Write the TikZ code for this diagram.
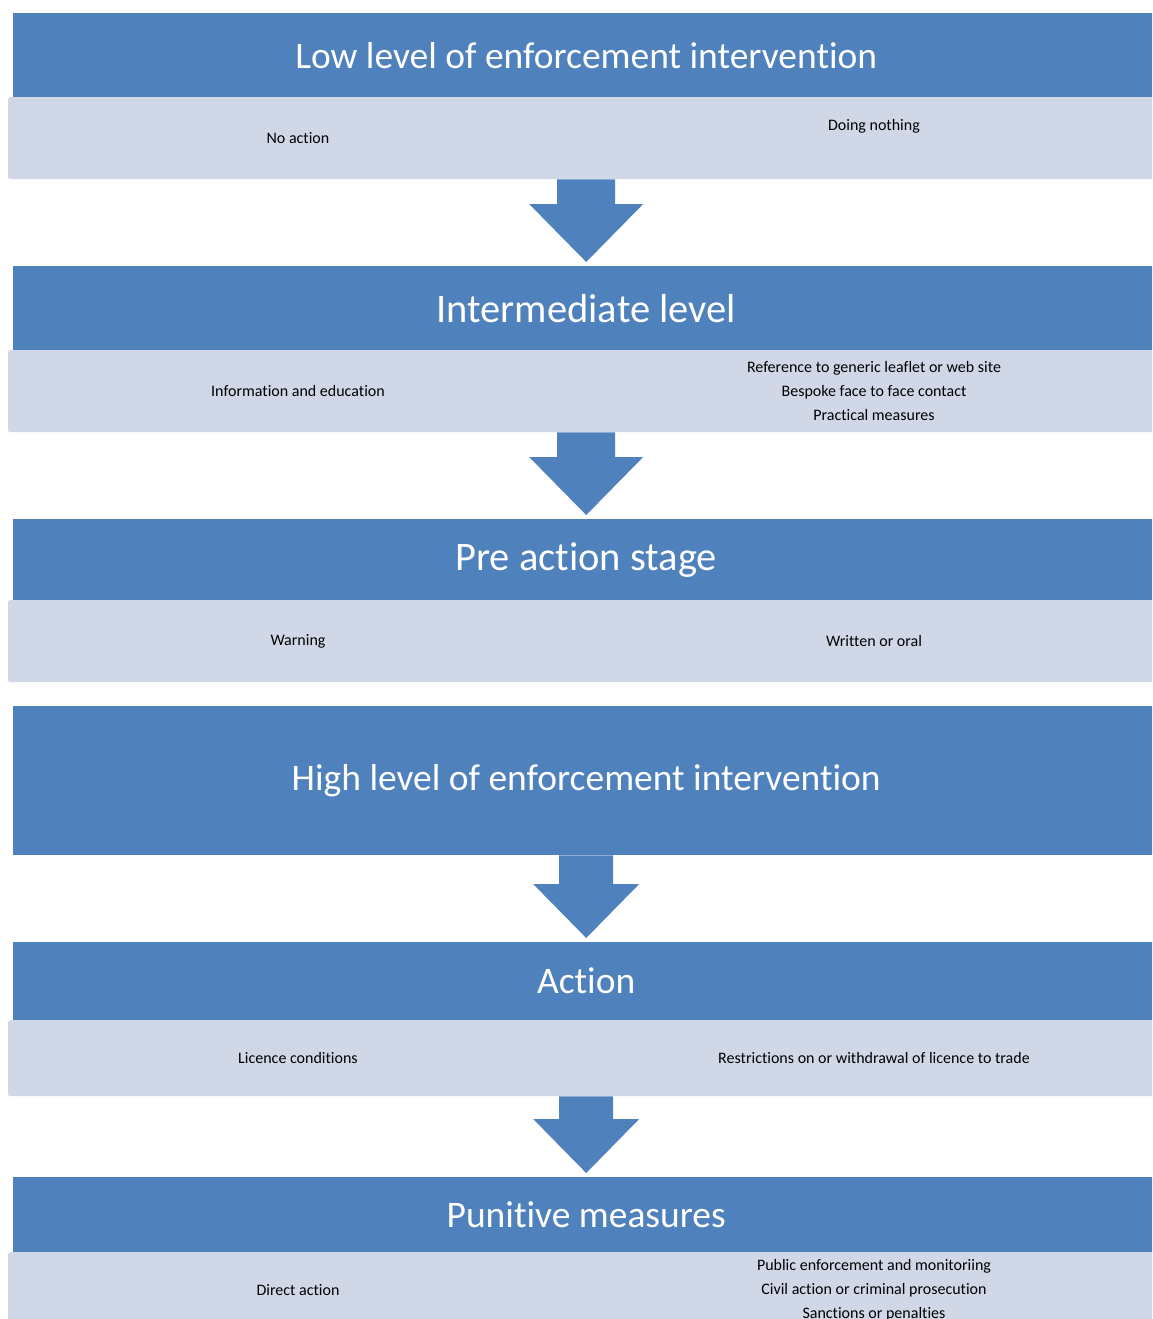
\documentclass[tikz,border=0pt]{standalone}
\usepackage{fontspec}
\setmainfont{Carlito}[Ligatures=NoCommon]
\usetikzlibrary{calc}
\definecolor{headblue}{HTML}{4F81BD}
\definecolor{bandgrey}{HTML}{D0D8E8}
\tikzset{
  headbox/.style={fill=headblue, draw=none, anchor=north west, inner sep=0pt,
    minimum width=1146pt, text=white, font=\fontsize{37.5}{44}\selectfont},
  bighead/.style={headbox, font=\fontsize{40.5}{48}\selectfont},
  detailbox/.style={fill=bandgrey, draw=none, anchor=north west, inner sep=0pt,
    rounded corners=2pt, minimum width=1160pt},
  itemtext/.style={align=center, text=black, inner sep=0pt,
    font=\fontsize{16}{24}\selectfont},
  arrowfill/.style={fill=headblue, draw=none}
}
% block arrow: from, to, shaft half width, head half width, head length
\newcommand\flowarrow[5]{%
  \fill[arrowfill] let \p1=(#1), \p2=(#2) in
    (\x2-#3,\y1) -- (\x2+#3,\y1) -- (\x2+#3,\y2+4pt+#5) -- (\x2+#4,\y2+4pt+#5)
    -- (\x2,\y2+4pt) -- (\x2-#4,\y2+4pt+#5) -- (\x2-#3,\y2+4pt+#5) -- cycle;}
\begin{document}
\begin{tikzpicture}[x=1pt, y=-1pt]
\clip (0,0) rectangle (1152,1319);
\fill[white] (0,0) rectangle (1152,1319);

% level 1
\node[headbox, minimum height=84pt] (t1) at (13,13) {Low level of enforcement intervention};
\node[detailbox, minimum height=82pt] (l1) at (8,97) {};
\node[itemtext] (l1a) at (298,138) {No action};
\node[itemtext] (l1b) at (874,126) {Doing nothing};

% level 2
\node[bighead, minimum height=84pt] (t2) at (13,266) {Intermediate level};
\node[detailbox, minimum height=82pt] (l2) at (8,350) {};
\node[itemtext] (l2a) at (298,391) {Information and education};
\node[itemtext] (l2b) at (874,391) {Reference to generic leaflet or web site\\Bespoke face to face contact\\Practical measures};

% level 3
\node[bighead, minimum height=81pt] (t3) at (13,519) {Pre action stage};
\node[detailbox, minimum height=82pt] (l3) at (8,600) {};
\node[itemtext] (l3a) at (298,641) {Warning};
\node[itemtext] (l3b) at (874,641) {Written or oral};

% level 4
\node[headbox, minimum height=149pt] (t4) at (13,706) {High level of enforcement intervention};

% level 5
\node[headbox, minimum height=78pt] (t5) at (13,942) {Action};
\node[detailbox, minimum height=76pt] (l5) at (8,1020) {};
\node[itemtext] (l5a) at (298,1058) {Licence conditions};
\node[itemtext] (l5b) at (874,1058) {Restrictions on or withdrawal of licence to trade};

% level 6
\node[headbox, minimum height=75pt] (t6) at (13,1177) {Punitive measures};
\node[detailbox, minimum height=76pt] (l6) at (8,1252) {};
\node[itemtext] (l6a) at (298,1290) {Direct action};
\node[itemtext] (l6b) at (874,1290) {Public enforcement and monitoriing\\Civil action or criminal prosecution\\Sanctions or penalties};

% arrows between levels
\flowarrow{l1.south}{t2.north}{29pt}{57pt}{58pt}
\flowarrow{l2.south}{t3.north}{29pt}{57pt}{58pt}
\flowarrow{t4.south}{t5.north}{27pt}{53pt}{54pt}
\flowarrow{l5.south}{t6.north}{27pt}{53pt}{54pt}
\end{tikzpicture}
\end{document}
